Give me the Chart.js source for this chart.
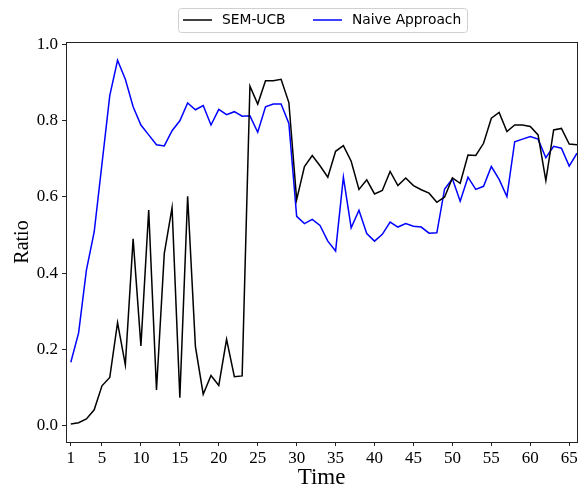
<!DOCTYPE html>
<html>
<head>
<meta charset="utf-8">
<script src="https://cdn.jsdelivr.net/npm/chart.js@4/dist/chart.umd.min.js"></script>
<style>
  html, body { margin: 0; padding: 0; background: #fff; }
  #wrap { width: 585px; height: 489px; position: relative; }
</style>
</head>
<body>
<div id="wrap"><canvas id="myChart"></canvas></div>
<script>
// time steps 1..66
const timeSteps = [];
for (let t = 1; t <= 66; t++) timeSteps.push(t);

const semUcb = [
  0.004, 0.007, 0.017, 0.041, 0.104, 0.126, 0.270, 0.159, 0.490, 0.209,
  0.566, 0.093, 0.451, 0.572, 0.073, 0.602, 0.207, 0.082, 0.131, 0.105,
  0.226, 0.128, 0.130, 0.891, 0.844, 0.905, 0.905, 0.909, 0.848, 0.593,
  0.680, 0.709, 0.682, 0.652, 0.720, 0.735, 0.694, 0.620, 0.645, 0.608,
  0.617, 0.667, 0.630, 0.650, 0.630, 0.619, 0.610, 0.586, 0.600, 0.650,
  0.636, 0.710, 0.709, 0.741, 0.807, 0.822, 0.772, 0.789, 0.789, 0.785,
  0.763, 0.643, 0.776, 0.780, 0.739, 0.737
];

const naive = [
  0.166, 0.243, 0.408, 0.508, 0.687, 0.866, 0.959, 0.909, 0.837, 0.789,
  0.763, 0.737, 0.734, 0.774, 0.800, 0.847, 0.829, 0.840, 0.789, 0.830,
  0.816, 0.824, 0.812, 0.813, 0.770, 0.837, 0.844, 0.844, 0.793, 0.549,
  0.530, 0.541, 0.525, 0.484, 0.458, 0.652, 0.519, 0.565, 0.504, 0.484,
  0.502, 0.534, 0.521, 0.530, 0.523, 0.521, 0.505, 0.506, 0.621, 0.648,
  0.589, 0.652, 0.620, 0.628, 0.680, 0.646, 0.601, 0.745, 0.752, 0.759,
  0.752, 0.703, 0.733, 0.728, 0.681, 0.715
];

const xTicks = [1, 5, 10, 15, 20, 25, 30, 35, 40, 45, 50, 55, 60, 65];
const yTicks = [0.0, 0.2, 0.4, 0.6, 0.8, 1.0];

const toPoints = (ys) => ys.map((y, i) => ({ x: timeSteps[i], y: y }));

// frame around the plot area + boxed legend like matplotlib
const framePlugin = {
  id: "frame",
  afterDraw(chart) {
    const { ctx, chartArea: a } = chart;
    ctx.save();
    ctx.strokeStyle = "#222";
    ctx.lineWidth = 1;
    ctx.strokeRect(Math.round(a.left) + 0.5, Math.round(a.top) + 0.5,
      Math.round(a.right - a.left), Math.round(a.bottom - a.top));

    // legend
    ctx.strokeStyle = "#d0d0d0";
    ctx.beginPath();
    ctx.roundRect(178.5, 8.5, 289, 24, 3);
    ctx.stroke();
    ctx.font = "13.8px 'DejaVu Sans'";
    ctx.textBaseline = "middle";
    ctx.fillStyle = "#000";
    const items = [
      { x: 183, ds: chart.data.datasets[0] },
      { x: 313, ds: chart.data.datasets[1] }
    ];
    items.forEach(it => {
      ctx.strokeStyle = it.ds.borderColor;
      ctx.lineWidth = 1.5;
      ctx.beginPath();
      ctx.moveTo(it.x, 20);
      ctx.lineTo(it.x + 29, 20);
      ctx.stroke();
      ctx.fillText(it.ds.label, it.x + 39, 20.5);
    });
    ctx.restore();
  }
};

new Chart(document.getElementById("myChart").getContext("2d"), {
  type: "line",
  data: {
    datasets: [
      {
        label: "SEM-UCB",
        data: toPoints(semUcb),
        borderColor: "#000000",
        borderWidth: 1.5,
        pointRadius: 0,
        tension: 0,
        fill: false
      },
      {
        label: "Naive Approach",
        data: toPoints(naive),
        borderColor: "#0000ff",
        borderWidth: 1.5,
        pointRadius: 0,
        tension: 0,
        fill: false
      }
    ]
  },
  options: {
    responsive: true,
    maintainAspectRatio: false,
    animation: false,
    layout: { padding: { top: 42, right: 8, left: 0, bottom: 0 } },
    plugins: {
      legend: { display: false },
      tooltip: { enabled: false }
    },
    scales: {
      x: {
        type: "linear",
        min: 0.38,
        max: 66,
        afterBuildTicks: (s) => { s.ticks = xTicks.map(v => ({ value: v })); },
        afterFit: (s) => { s.height = 47; },
        grid: { drawOnChartArea: false, drawTicks: true, tickLength: 4, color: "#222" },
        border: { display: true, color: "#222" },
        ticks: {
          color: "#000",
          padding: 2,
          maxRotation: 0,
          autoSkip: false,
          font: { family: "'Liberation Serif', 'Times New Roman', serif", size: 17 }
        },
        title: {
          display: true,
          text: "Time",
          color: "#000",
          padding: { top: 0, bottom: 0 },
          font: { family: "'Liberation Serif', 'Times New Roman', serif", size: 23, lineHeight: 1 }
        }
      },
      y: {
        min: -0.0435,
        max: 1.007,
        afterBuildTicks: (s) => { s.ticks = yTicks.map(v => ({ value: v })); },
        afterFit: (s) => { s.width = 66; },
        grid: { drawOnChartArea: false, drawTicks: true, tickLength: 4, color: "#222" },
        border: { display: true, color: "#222" },
        ticks: {
          color: "#000",
          padding: 4,
          callback: (v) => Number(v).toFixed(1),
          font: { family: "'Liberation Serif', 'Times New Roman', serif", size: 17 }
        },
        title: {
          display: true,
          text: "Ratio",
          color: "#000",
          padding: { top: 13, bottom: 0 },
          font: { family: "'Liberation Serif', 'Times New Roman', serif", size: 20, lineHeight: 1 }
        }
      }
    }
  },
  plugins: [framePlugin]
});
</script>
</body>
</html>
